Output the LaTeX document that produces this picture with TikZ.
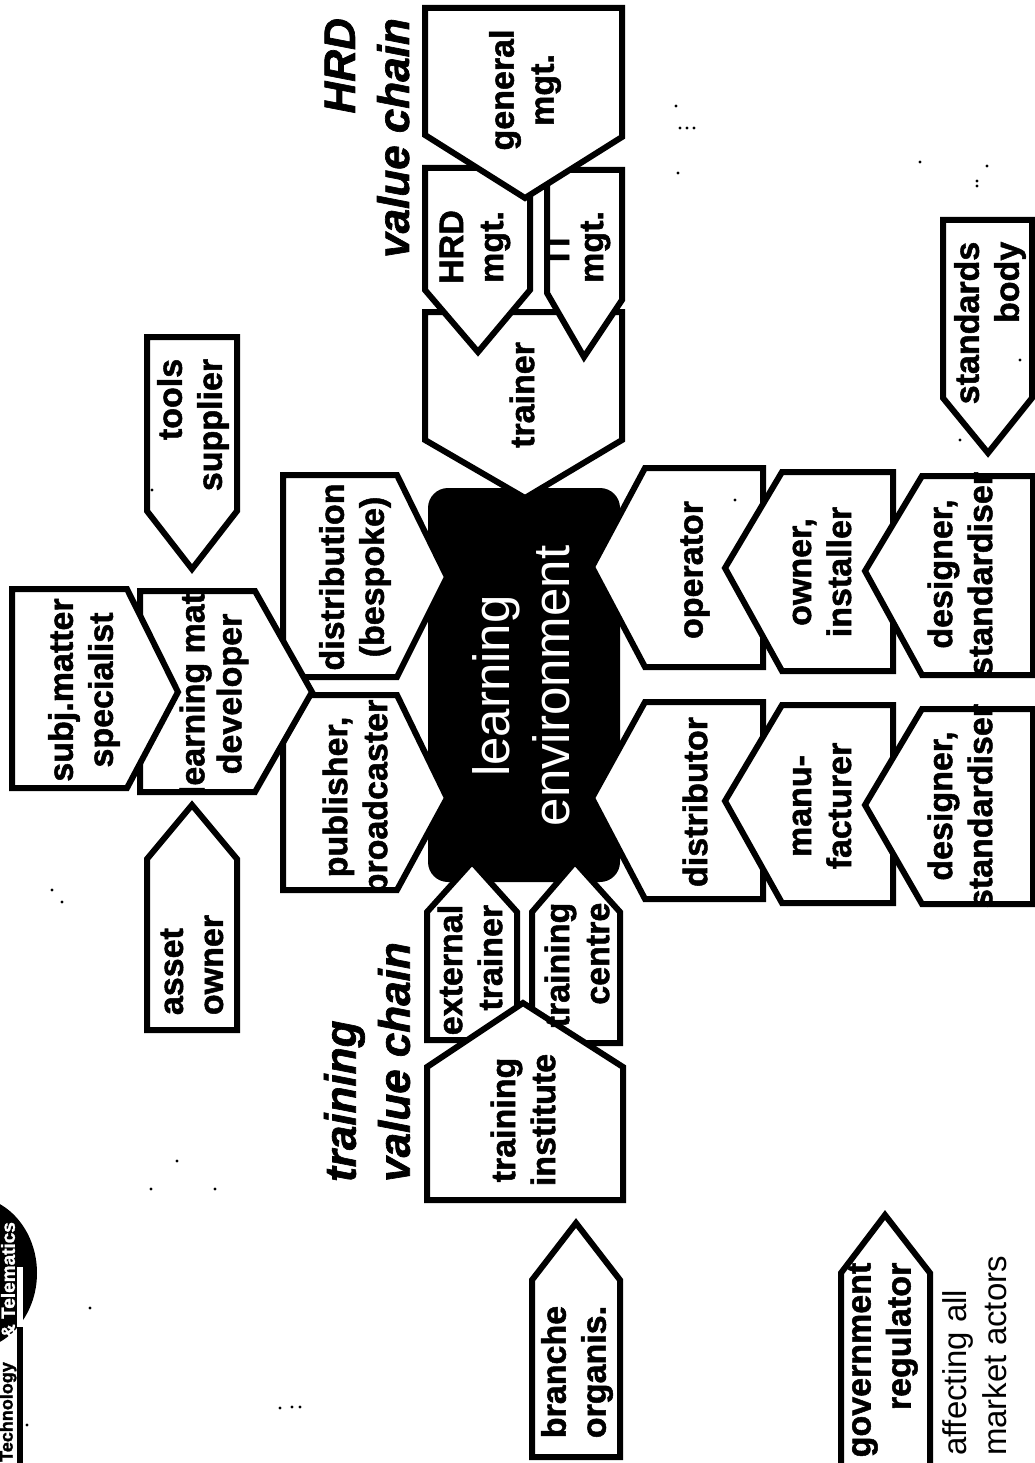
\documentclass[tikz,border=0pt]{standalone}
\usepackage{fontspec}
\setmainfont{Liberation Sans}[BoldFeatures={FakeBold=1.5},BoldItalicFeatures={FakeBold=1.5}]
\begin{document}
\begin{tikzpicture}[x=1pt,y=-1pt,
  chain/.style={draw=black,fill=white,line width=6pt,line join=miter},
  lbl/.style={rotate=90,inner sep=0pt,align=center,font=\bfseries\fontsize{34}{40}\selectfont},
  lblr/.style={lbl,align=right},
  lbll/.style={lbl,align=left},
  head/.style={rotate=90,inner sep=0pt,font=\bfseries\itshape\fontsize{44}{54}\selectfont},
  speck/.style={fill=black,draw=none}]
\useasboundingbox (0,0) rectangle (1035,1463);
\clip (0,0) rectangle (1035,1463);
\fill[white] (0,0) rectangle (1035,1463);
% centre
\fill[black,rounded corners=20pt] (428,488) rectangle (620,882);
% upper value chain (HRD)
\draw[chain] (425,312)--(622,312)--(622,440)--(525,498)--(425,440)--cycle;
\draw[chain] (425,168)--(530,168)--(530,290)--(478,352)--(425,290)--cycle;
\draw[chain] (547,170)--(622,170)--(622,300)--(584,357)--(547,293)--cycle;
\draw[chain] (425,8)--(622,8)--(622,137)--(525,198)--(425,135)--cycle;
% content chain
\draw[chain] (283,475)--(397,475)--(447,577)--(397,677)--(283,677)--cycle;
\draw[chain] (283,695)--(397,695)--(447,798)--(397,890)--(283,890)--cycle;
\draw[chain] (140,591)--(255,591)--(312,692)--(255,792)--(140,792)--cycle;
\draw[chain] (12,589)--(127,589)--(178,692)--(127,788)--(12,788)--cycle;
\draw[chain] (147,337)--(237,337)--(237,511)--(192,569)--(147,511)--cycle;
\draw[chain] (192,805)--(237,859)--(237,1030)--(147,1030)--(147,859)--cycle;
% lower right chains
\draw[chain] (592,567)--(645,468)--(763,468)--(763,667)--(645,667)--cycle;
\draw[chain] (725,568)--(782,472)--(893,472)--(893,671)--(782,671)--cycle;
\draw[chain] (865,571)--(922,476)--(1033,476)--(1033,675)--(922,675)--cycle;
\draw[chain] (592,798)--(645,702)--(763,702)--(763,899)--(645,899)--cycle;
\draw[chain] (725,801)--(782,705)--(893,705)--(893,903)--(782,903)--cycle;
\draw[chain] (865,805)--(922,709)--(1033,709)--(1033,904)--(922,904)--cycle;
\draw[chain] (943,220)--(1032,220)--(1032,398)--(988,453)--(943,398)--cycle;
% training chain
\draw[chain] (472,862)--(517,912)--(517,1040)--(427,1040)--(427,912)--cycle;
\draw[chain] (575,862)--(620,912)--(620,1043)--(532,1043)--(532,912)--cycle;
\draw[chain] (523,1003)--(623,1067)--(623,1200)--(427,1200)--(427,1067)--cycle;
\draw[chain] (576,1223)--(620,1280)--(620,1457)--(532,1457)--(532,1280)--cycle;
\draw[chain] (885,1215)--(930,1273)--(930,1470)--(841,1470)--(841,1273)--cycle;
% labels
\node[rotate=90,inner sep=0pt,align=center,text=white,font=\fontsize{51}{60}\selectfont] (env) at (521,686) {learning\\environment};
\node[lbl] (general) at (525,90) {general\\mgt.};
\node[lbl] (hrdmgt) at (475,247) {HRD\\mgt.};
\node[lbl] (itmgt) at (578,247) {IT\\[-6pt]mgt.};
\node[lbl] (trainer) at (522,395) {trainer};
\node[lbl] (distrib) at (355,577) {distribution\\(bespoke)};
\node[lbl] (publisher) at (355,797) {publisher,\\broadcaster};
\node[lbl] (developer) at (214,694) {learning mat\\[-3pt]developer};
\node[lbl] (subj) at (84,690) {subj.matter\\specialist};
\node[lblr] (tools) at (193,425) {tools\hspace{11pt}\\supplier};
\node[lbll] (asset) at (192,965) {asset\\owner};
\node[lbl] (operator) at (695,570) {operator};
\node[lbl] (owner) at (822,572) {owner,\\installer};
\node[lbl] (designA) at (960,574) {designer,\\standardiser};
\node[lbl] (distributor) at (695,802) {distributor};
\node[lbl] (manu) at (822,806) {manu-\\facturer};
\node[lbl] (designB) at (960,806) {designer,\\standardiser};
\node[lblr] (standards) at (990,323) {standards\\body};
\node[lblr] (external) at (470,970) {external\\trainer};
\node[lblr] (centre) at (577,965) {training\\centre};
\node[lbl] (institute) at (523,1120) {training\\institute};
\node[lbll] (branche) at (577,1372) {branche\\organis.};
\node[lblr] (gov) at (883,1360) {government\\regulator};
\node[rotate=90,inner sep=0pt,align=left,font=\fontsize{33}{40}\selectfont] (affect) at (975,1356) {affecting all\\market actors};
\node[head,align=left] (trchain) at (367,1062) {training\\value chain};
\node[head,align=right] (hrdchain) at (367,138) {HRD\\value chain};
% logo
\fill[black] (-30,1273) ellipse [x radius=67, y radius=77];
\fill[white] (17,1267) rectangle (23,1327);
\fill[black] (17,1327) rectangle (23,1463);
\fill[white] (0,1350) -- (16,1350) -- (16,1333) -- cycle;
\node[rotate=90,inner sep=0pt,text=white,font=\bfseries\fontsize{19}{22}\selectfont] (logoa) at (8,1280) {\& Telematics};
\node[rotate=90,inner sep=0pt,font=\bfseries\fontsize{18}{22}\selectfont] (logob) at (8,1412) {Technology};
% scan specks
\foreach \x/\y in {177/1161,151/1189,215/1189,90/1308,27/1425,280/1408,292/1407,300/1407,676/106,680/128,687/128,694/128,678/173,52/890,62/902,152/490,987/166,977/186,977/181,920/162,1020/360,735/500,960/440}
  \fill[speck] (\x,\y) circle (1.6pt);
\end{tikzpicture}
\end{document}
